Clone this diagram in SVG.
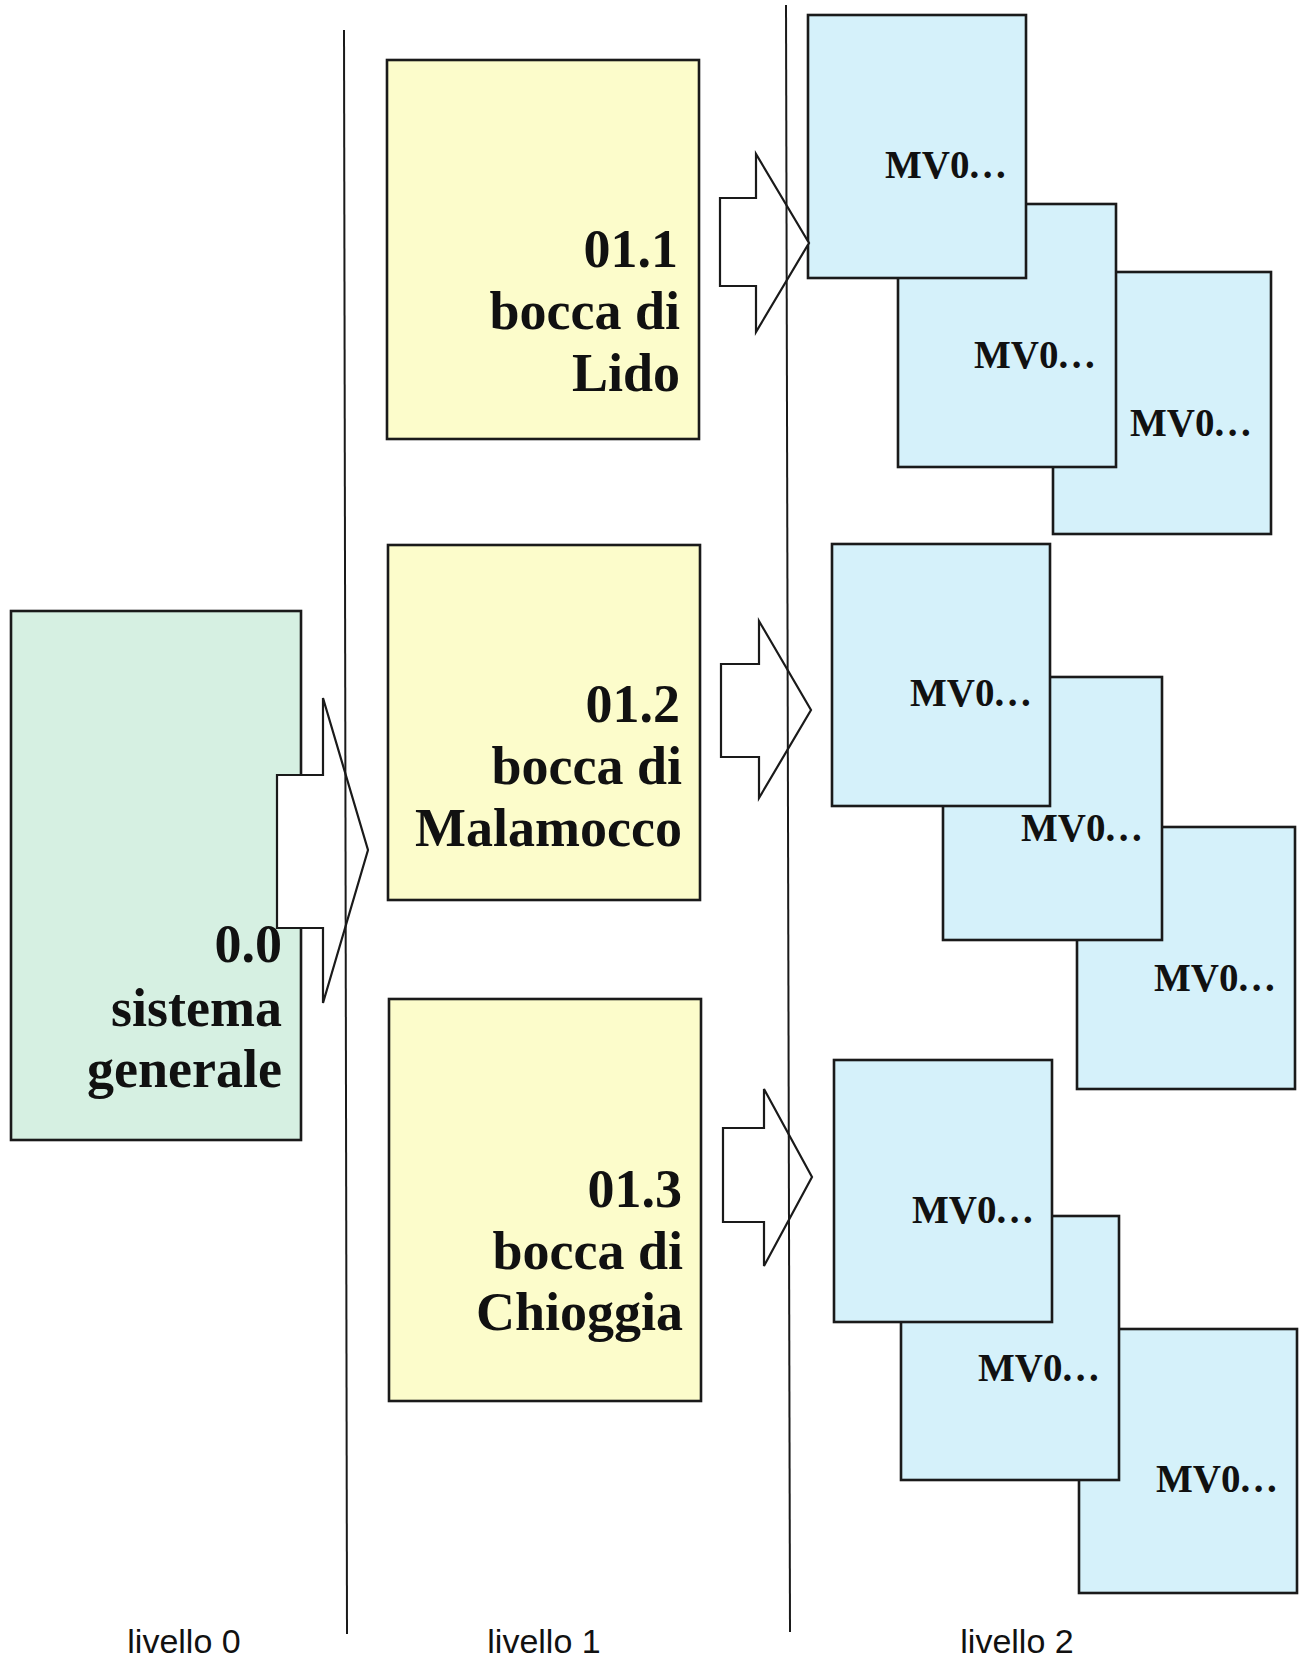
<svg xmlns="http://www.w3.org/2000/svg" width="1303" height="1659" viewBox="0 0 1303 1659">
<style>
.box{stroke:#1a1a1a;stroke-width:2.6}
.g{fill:#d6f0e2}
.y{fill:#fcfccb}
.b{fill:#d5f1fa}
.arrow{fill:#fff;stroke:#1a1a1a;stroke-width:2.2;stroke-linejoin:miter}
.sep{stroke:#1a1a1a;stroke-width:2;fill:none}
.big{font-family:"Liberation Serif","Times New Roman",serif;font-weight:bold;font-size:54px;fill:#111;text-anchor:end}
.mv{font-family:"Liberation Serif","Times New Roman",serif;font-weight:bold;font-size:39px;fill:#111}
.lv{font-family:"Liberation Sans",Arial,sans-serif;font-size:34px;fill:#111;text-anchor:middle}
</style>
<rect width="1303" height="1659" fill="#fff"/>

<g id="n00">
<rect class="box g" x="11" y="611" width="290" height="529"/>
<text class="big"><tspan x="282" y="962">0.0</tspan><tspan x="282" y="1026">sistema</tspan><tspan x="282" y="1087">generale</tspan></text>
</g>

<g id="n011">
<rect class="box y" x="387" y="60" width="312" height="379"/>
<text class="big"><tspan x="678" y="267">01.1</tspan><tspan x="680" y="329">bocca di</tspan><tspan x="680" y="391">Lido</tspan></text>
</g>
<g id="n012">
<rect class="box y" x="388" y="545" width="312" height="355"/>
<text class="big"><tspan x="680" y="722">01.2</tspan><tspan x="682" y="784">bocca di</tspan><tspan x="682" y="846">Malamocco</tspan></text>
</g>
<g id="n013">
<rect class="box y" x="389" y="999" width="312" height="402"/>
<text class="big"><tspan x="682" y="1207">01.3</tspan><tspan x="683" y="1269">bocca di</tspan><tspan x="683" y="1330">Chioggia</tspan></text>
</g>

<g id="mv1c"><rect class="box b" x="1053" y="272" width="218" height="262"/><text class="mv" x="1130" y="436">MV0<tspan letter-spacing="3.5">...</tspan></text></g>
<g id="mv1b"><rect class="box b" x="898" y="204" width="218" height="263"/><text class="mv" x="974" y="368">MV0<tspan letter-spacing="3.5">...</tspan></text></g>
<g id="mv1a"><rect class="box b" x="808" y="15" width="218" height="263"/><text class="mv" x="885" y="178">MV0<tspan letter-spacing="3.5">...</tspan></text></g>

<g id="mv2c"><rect class="box b" x="1077" y="827" width="218" height="262"/><text class="mv" x="1154" y="991">MV0<tspan letter-spacing="3.5">...</tspan></text></g>
<g id="mv2b"><rect class="box b" x="943" y="677" width="219" height="263"/><text class="mv" x="1021" y="841">MV0<tspan letter-spacing="3.5">...</tspan></text></g>
<g id="mv2a"><rect class="box b" x="832" y="544" width="218" height="262"/><text class="mv" x="910" y="706">MV0<tspan letter-spacing="3.5">...</tspan></text></g>

<g id="mv3c"><rect class="box b" x="1079" y="1329" width="218" height="264"/><text class="mv" x="1156" y="1492">MV0<tspan letter-spacing="3.5">...</tspan></text></g>
<g id="mv3b"><rect class="box b" x="901" y="1216" width="218" height="264"/><text class="mv" x="978" y="1381">MV0<tspan letter-spacing="3.5">...</tspan></text></g>
<g id="mv3a"><rect class="box b" x="834" y="1060" width="218" height="262"/><text class="mv" x="912" y="1223">MV0<tspan letter-spacing="3.5">...</tspan></text></g>

<g id="connectors">
<polygon class="arrow" points="277,775 323,775 323,698 368,850 323,1003 323,928 277,928"/>
<polygon class="arrow" points="720,198 756,198 756,154 809,243 756,332 756,286 720,286"/>
<polygon class="arrow" points="721,664 759,664 759,621 811,710 759,798 759,757 721,757"/>
<polygon class="arrow" points="723,1128 764,1128 764,1089 812,1177 764,1266 764,1222 723,1222"/>
<line class="sep" x1="344" y1="30" x2="347" y2="1634"/>
<line class="sep" x1="786" y1="5" x2="790" y2="1632"/>
</g>

<g id="labels">
<text class="lv" x="184" y="1653">livello 0</text>
<text class="lv" x="544" y="1653">livello 1</text>
<text class="lv" x="1017" y="1653">livello 2</text>
</g>
</svg>
